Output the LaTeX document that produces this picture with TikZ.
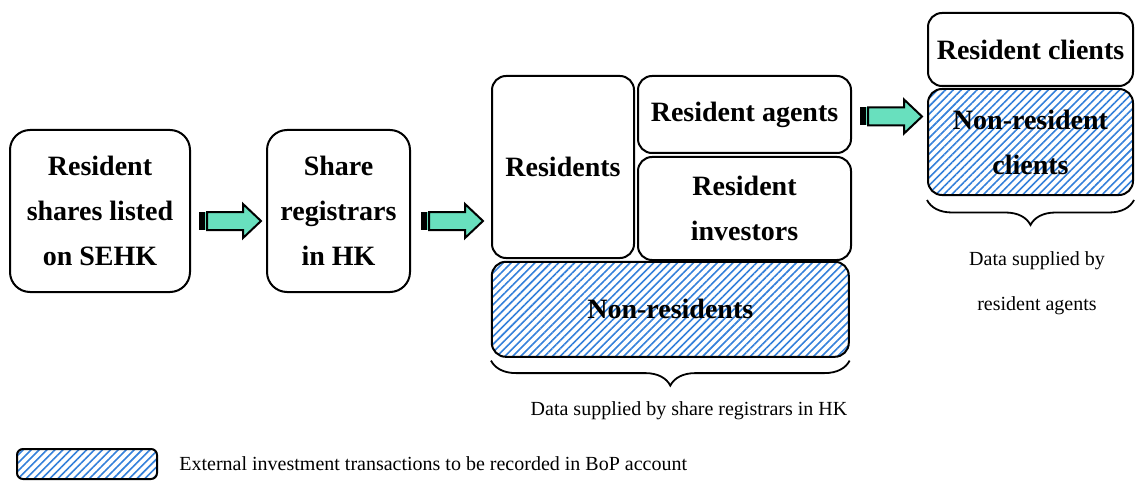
\documentclass[tikz,border=0pt]{standalone}
\usepackage{fontspec}
\setmainfont{Liberation Serif}
\usepackage{tikz}
\usetikzlibrary{positioning,calc,patterns.meta,decorations.pathreplacing}

\definecolor{arrowteal}{RGB}{104,224,190}
\definecolor{hatchblue}{RGB}{52,128,218}

\tikzset{
    blockarrow/.pic={
        \fill[arrowteal] (0,-9) rectangle (9,9);
        \fill[black] (0,-9) rectangle (6,9);
        \draw[fill=arrowteal, line width=1pt, line join=miter]
            (8,-9) -- (44,-9) -- (44,-17) -- (62,0) -- (44,17) -- (44,9) -- (8,9) -- cycle;
    }
}

\begin{document}
\begin{tikzpicture}[
    x=0.5pt, y=-0.5pt,
    roundbox/.style={rectangle, rounded corners=7pt, draw=black, line width=1pt, align=center, inner sep=0pt, font=\bfseries\fontsize{14}{22.5}\selectfont},
    hatchbox/.style={roundbox, pattern={Lines[angle=45,distance=2.8pt,line width=0.8pt]}, pattern color=hatchblue},
    note/.style={align=center, inner sep=0pt, font=\fontsize{10}{22.5}\selectfont},
    brace/.style={decorate, decoration={brace, mirror, amplitude=12.5pt}, line width=0.9pt}
    ]
        \useasboundingbox (0,0) rectangle (1135,481);

        %Nodes
        \node[roundbox, minimum width=90pt, minimum height=81pt, rounded corners=10pt]
            (listed)        at (100,211)    {Resident\\shares listed\\on SEHK};
        \node[roundbox, minimum width=71.5pt, minimum height=81pt, rounded corners=10pt]
            (registrars)    [right=37.5pt of listed]   {Share\\registrars\\in HK};
        \node[roundbox, minimum width=71pt, minimum height=91pt]
            (residents)     at (563,167)    {Residents};
        \node[roundbox, minimum width=106.5pt, minimum height=38.5pt]
            (agents)        [right=1pt of residents.north east, anchor=north west]   {Resident agents};
        \node[roundbox, minimum width=106.5pt, minimum height=51.5pt]
            (investors)     [below=1pt of agents]   {Resident\\investors};
        \node[hatchbox, minimum width=178.5pt, minimum height=47.5pt]
            (nonres)        [below=1pt of residents.south west, anchor=north west]   {Non-residents};
        \node[roundbox, minimum width=102.5pt, minimum height=36.5pt]
            (clients)       at (1030.5,49.5)    {Resident clients};
        \node[hatchbox, minimum width=102.5pt, minimum height=53pt]
            (nonclients)    [below=0.5pt of clients]   {Non-resident\\clients};
        \node[hatchbox, minimum width=70pt, minimum height=15pt, rounded corners=3pt]
            (legend)        at (87,464)     {};

        %Notes
        \node[note]
            (regnote)       at (689,411)    {Data supplied by share registrars in HK};
        \node[note]
            (agentnote)     at (1037,283)   {Data supplied by\\resident agents};
        \node[note]
            (legendtext)    [right=10.5pt of legend]   {External investment transactions to be recorded in BoP account};

        %Arrows
        \pic at ($(listed.east)+(8,10)$)        {blockarrow};
        \pic at ($(registrars.east)+(10,10)$)   {blockarrow};
        \pic at ($(agents.east)+(8,2)$)         {blockarrow};

        %Braces
        \draw[brace]
            ($(nonres.south west)+(0,3)$) -- ($(nonres.south east)+(0,3)$);
        \draw[brace]
            ($(nonclients.south west)+(0,4)$) -- ($(nonclients.south east)+(0,4)$);
    \end{tikzpicture}
\end{document}
